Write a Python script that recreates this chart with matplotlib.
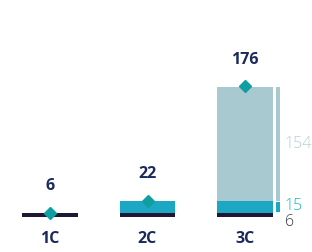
import matplotlib
matplotlib.use("Agg")
import matplotlib.pyplot as plt

categories = ["1C", "2C", "3C"]
dark_vals = [6, 6, 6]
teal_vals = [0, 16, 15]
light_vals = [0, 0, 154]
totals = [6, 22, 176]
bracket_labels = ["154", "15", "6"]

c_dark = "#1f1834"
c_teal = "#1ca8c5"
c_light = "#a8c9d0"
c_diamond = "#0f9fa2"
c_navy = "#1b2a5c"

plt.rcParams['font.family'] = ['Open Sans', 'DejaVu Sans']

fig = plt.figure(figsize=(3.12, 2.52), dpi=100)
ax = fig.add_axes([0, 0, 1, 1])
px_x = 97.5
px_y = 0.744
ax.set_xlim(-50 / px_x, (312 - 50) / px_x)
ax.set_ylim(-35 / px_y, (252 - 35) / px_y)
ax.axis("off")

x = list(range(len(categories)))
w = 0.57
bottoms2 = dark_vals
bottoms3 = [d + t for d, t in zip(dark_vals, teal_vals)]
ax.bar(x, dark_vals, width=w, color=c_dark)
ax.bar(x, teal_vals, width=w, bottom=bottoms2, color=c_teal)
ax.bar(x, light_vals, width=w, bottom=bottoms3, color=c_light)

ax.plot(x, totals, linestyle="none", marker="D", markersize=6.5, color=c_diamond)

for xi, t in zip(x, totals):
    ax.annotate(str(t), (xi, t), xytext=(0, 19), textcoords="offset points",
                ha="center", va="center", fontsize=11.5, fontweight="bold", color=c_navy)
for xi, c in zip(x, categories):
    ax.annotate(c, (xi, 0), xytext=(0, -16), textcoords="offset points",
                ha="center", va="center", fontsize=11.5, fontweight="bold", color=c_navy)

# bracket for last bar
bx = 2 + (278 - 245) / px_x
i = 2
gap = 1.5
ax.bar([bx], [teal_vals[i] - gap], width=0.035, bottom=[dark_vals[i] + gap / 2], color=c_teal)
ax.bar([bx], [light_vals[i] - gap], width=0.035, bottom=[bottoms3[i] + gap / 2], color=c_light)

tx = 2 + (285 - 245) / px_x
ax.text(tx, bottoms3[i] + light_vals[i] / 2, bracket_labels[0], ha="left", va="center",
        fontsize=11.5, fontweight="light", color="#b6d0d6")
ax.text(tx, dark_vals[i] + teal_vals[i] / 2 + 1, bracket_labels[1], ha="left", va="center",
        fontsize=11.5, fontweight="light", color="#1ab8c0")
ax.text(tx, -7, bracket_labels[2], ha="left", va="center", fontsize=11.5,
        fontweight="light", color="#3a3a4a")

fig.savefig("out.png", dpi=100)
